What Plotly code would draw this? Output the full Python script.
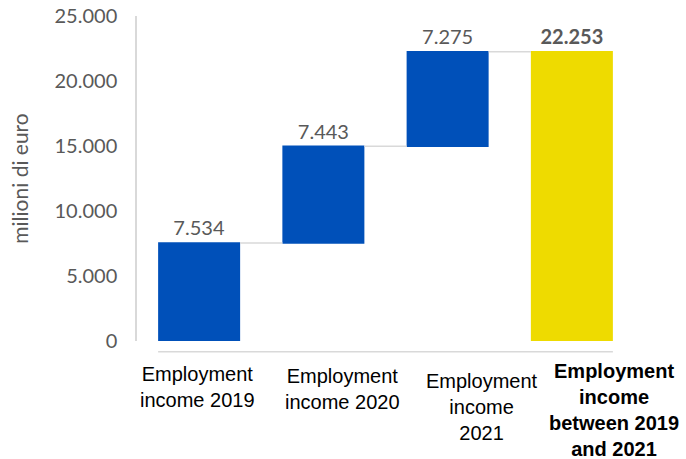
import plotly.graph_objects as go

# Data
categories = [
    "Employment<br>income 2019",
    "Employment<br>income 2020",
    "Employment<br>income<br>2021",
    "<b>Employment<br>income<br>between 2019<br>and 2021</b>",
]
measures = ["relative", "relative", "relative", "absolute"]
values = [7534, 7443, 7275, 22253]
y_ticks = [0, 5000, 10000, 15000, 20000, 25000]
y_title = "milioni di euro"

BLUE = "#0050B9"
YELLOW = "#EEDB00"
GRAY_TXT = "#595959"
LINE_GRAY = "#D9D9D9"


def it_fmt(v):
    return f"{v:,.0f}".replace(",", ".")


labels = [it_fmt(v) for v in values]
labels[-1] = "<b>" + labels[-1] + "</b>"

xs = list(range(len(categories)))

fig = go.Figure()
fig.add_trace(go.Waterfall(
    x=xs,
    y=values,
    measure=measures,
    text=labels,
    textposition="outside",
    textfont=dict(family="Lato, sans-serif", size=20, color=GRAY_TXT),
    increasing=dict(marker=dict(color=BLUE, line=dict(width=0))),
    totals=dict(marker=dict(color=YELLOW, line=dict(width=0))),
    connector=dict(line=dict(color=LINE_GRAY, width=1.5)),
    cliponaxis=False,
    showlegend=False,
))

# Category labels below the bars
label_xshift = [-2, 19, 34, 42]
label_yshift = [-20, -21.5, -26.5, -16.5]
for i, cat in enumerate(categories):
    fig.add_annotation(
        x=i, y=0, xref="x", yref="y",
        text=cat, showarrow=False,
        yanchor="top", xshift=label_xshift[i], yshift=label_yshift[i],
        align="center",
        font=dict(family="Liberation Sans, Arial, sans-serif", size=20, color="#000000"),
    )

# Axis title
fig.add_annotation(
    x=-0.237, y=0.5, xref="paper", yref="paper",
    text=y_title, showarrow=False, textangle=-90,
    xanchor="center", yanchor="middle",
    font=dict(family="Lato, sans-serif", size=21, color=GRAY_TXT),
)

# Baseline under the bars
fig.add_shape(
    type="line", xref="x", yref="paper",
    x0=-0.33, x1=len(categories) - 1 + 0.33, y0=-0.033, y1=-0.033,
    line=dict(color=LINE_GRAY, width=1.5),
)

fig.update_layout(
    width=686, height=459,
    margin=dict(l=137, r=52, t=16, b=118, autoexpand=False),
    plot_bgcolor="white", paper_bgcolor="white",
    separators=",.",
    waterfallgap=0.34,
    xaxis=dict(
        range=[-0.5, len(categories) - 0.5], automargin=False,
        showticklabels=False, showgrid=False, zeroline=False, showline=False,
    ),
    yaxis=dict(
        range=[0, 25000], automargin=False,
        tickvals=y_ticks,
        ticktext=[it_fmt(v) for v in y_ticks],
        showgrid=False, zeroline=False,
        showline=True, linecolor=LINE_GRAY, linewidth=1.5,
        ticks="", ticklabelstandoff=14, ticklabeloverflow="allow",
        tickfont=dict(family="Lato, sans-serif", size=20, color=GRAY_TXT),
    ),
)

fig.write_html("out.html")
